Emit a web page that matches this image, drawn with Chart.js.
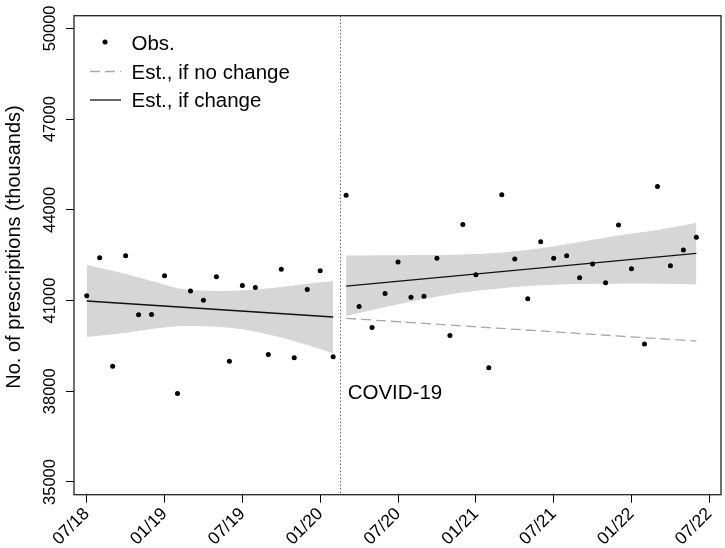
<!DOCTYPE html>
<html>
<head>
<meta charset="utf-8">
<script src="https://cdn.jsdelivr.net/npm/chart.js@4.4.0/dist/chart.umd.min.js"></script>
<style>
html,body{margin:0;padding:0;background:#fff;}
#wrap{width:725px;height:548px;position:relative;}
</style>
</head>
<body>
<div id="wrap"><canvas id="c" width="725" height="548"></canvas></div>
<script>
// ---- data (months counted from 07/18 = 0) ----
const monthLabels = ['07/18','08/18','09/18','10/18','11/18','12/18','01/19','02/19','03/19','04/19','05/19','06/19',
  '07/19','08/19','09/19','10/19','11/19','12/19','01/20','02/20','03/20','04/20','05/20','06/20',
  '07/20','08/20','09/20','10/20','11/20','12/20','01/21','02/21','03/21','04/21','05/21','06/21',
  '07/21','08/21','09/21','10/21','11/21','12/21','01/22','02/22','03/22','04/22','05/22','06/22'];
const observed = [41155, 42418, 38824, 42484, 40529, 40538, 41824, 37924, 41320, 41013, 41791, 38989,
  41495, 41429, 39220, 42035, 39111, 41363, 41989, 39144,
  44485, 40802, 40110, 41231, 42276, 41112, 41145, 42398, 39846, 43519, 41857, 38781,
  44495, 42375, 41056, 42945, 42398, 42484, 41758, 42210, 41593, 43496, 42055, 39562,
  44772, 42154, 42672, 43090];
const xTickMonths = [0, 6, 12, 18, 24, 30, 36, 42, 48];
const xTickLabels = ['07/18','01/19','07/19','01/20','07/20','01/21','07/21','01/22','07/22'];
const yTicks = [35000, 38000, 41000, 44000, 47000, 50000];
const interventionAt = 19.5;
const fitBeforeX = [0, 19];
const fitBeforeY = [40985, 40456];
const fitAfterX = [20, 47];
const fitAfterY = [41480, 42560];
const noChangeX = [20, 47];
const noChangeY = [40412, 39660];
const bandBeforeX  = [0, 3, 5.5, 7.5, 10, 12, 14.5, 17, 19];
const bandBeforeHi = [42174, 41880, 41590, 41370, 41315, 41337, 41425, 41558, 41645];
const bandBeforeLo = [39795, 39938, 40081, 40158, 40136, 40048, 39828, 39530, 39255];
const bandAfterX  = [20, 23, 26, 29, 32, 35, 38, 41, 44, 47];
const bandAfterHi = [42494, 42495, 42505, 42525, 42590, 42730, 42935, 43150, 43330, 43573];
const bandAfterLo = [40489, 40780, 41050, 41270, 41410, 41505, 41550, 41560, 41555, 41535];
const legendLabels = ['Obs.', 'Est., if no change', 'Est., if change'];
const yTitle = 'No. of prescriptions (thousands)';
const annotationText = 'COVID-19';

const FONT = '"Liberation Sans", Arial, sans-serif';
const pts = (xs, ys) => xs.map((x, i) => ({x: x, y: ys[i]}));

const bandStyle = {type:'line', pointRadius:0, borderWidth:0, borderColor:'rgba(0,0,0,0)',
  backgroundColor:'#d6d6d6', tension:0.35};

const datasets = [
  {type:'scatter', label:legendLabels[0], data: observed.map((v, i) => ({x:i, y:v})),
   pointRadius:2.5, pointBackgroundColor:'#000', pointBorderWidth:0, borderColor:'#000', showLine:false},
  {type:'line', label:legendLabels[2], data: pts(fitBeforeX, fitBeforeY), borderColor:'#111', borderWidth:1.3, pointRadius:0, fill:false},
  {type:'line', label:legendLabels[2], data: pts(fitAfterX, fitAfterY), borderColor:'#111', borderWidth:1.3, pointRadius:0, fill:false},
  {type:'line', label:legendLabels[1], data: pts(noChangeX, noChangeY), borderColor:'#a8a8a8', borderWidth:1.3, borderDash:[10,5], pointRadius:0, fill:false},
  Object.assign({}, bandStyle, {data: pts(bandBeforeX, bandBeforeHi), fill:'+1'}),
  Object.assign({}, bandStyle, {data: pts(bandBeforeX, bandBeforeLo), fill:false}),
  Object.assign({}, bandStyle, {data: pts(bandAfterX, bandAfterHi), fill:'+1'}),
  Object.assign({}, bandStyle, {data: pts(bandAfterX, bandAfterLo), fill:false})
];

const decor = {
  id: 'decor',
  beforeDatasetsDraw(chart) {
    const ctx = chart.ctx, a = chart.chartArea, xs = chart.scales.x;
    const px = Math.round(xs.getPixelForValue(interventionAt)) + 0.5;
    ctx.save();
    ctx.strokeStyle = '#444'; ctx.lineWidth = 1; ctx.setLineDash([1.2, 2.3]);
    ctx.beginPath(); ctx.moveTo(px, a.top); ctx.lineTo(px, a.bottom); ctx.stroke();
    ctx.restore();
  },
  afterDraw(chart) {
    const ctx = chart.ctx, a = chart.chartArea, xs = chart.scales.x, ys = chart.scales.y;
    ctx.save();
    // box
    ctx.strokeStyle = '#222'; ctx.lineWidth = 1.3; ctx.setLineDash([]);
    ctx.strokeRect(a.left, a.top, a.right - a.left, a.bottom - a.top);
    // y tick labels (rotated)
    ctx.fillStyle = '#000';
    ctx.font = '16.5px ' + FONT;
    ctx.textAlign = 'center'; ctx.textBaseline = 'alphabetic';
    yTicks.forEach(v => {
      const py = ys.getPixelForValue(v);
      ctx.save(); ctx.translate(55, py); ctx.rotate(-Math.PI / 2);
      ctx.fillText(String(v), 0, 0); ctx.restore();
    });
    // y title
    ctx.font = '20px ' + FONT;
    ctx.save(); ctx.translate(20, 247); ctx.rotate(-Math.PI / 2);
    ctx.fillText(yTitle, 0, 0); ctx.restore();
    // annotation
    ctx.font = '20.5px ' + FONT; ctx.textAlign = 'left';
    ctx.fillText(annotationText, xs.getPixelForValue(interventionAt) + 8, 398.5);
    // legend
    ctx.fillText(legendLabels[0], 131.5, 50);
    ctx.fillText(legendLabels[1], 131.5, 78.5);
    ctx.fillText(legendLabels[2], 131.5, 107);
    ctx.beginPath(); ctx.arc(105, 42, 2.5, 0, Math.PI * 2); ctx.fill();
    ctx.lineWidth = 1.3;
    ctx.strokeStyle = '#a8a8a8'; ctx.setLineDash([10, 5]);
    ctx.beginPath(); ctx.moveTo(90, 71.5); ctx.lineTo(121, 71.5); ctx.stroke();
    ctx.strokeStyle = '#111'; ctx.setLineDash([]);
    ctx.beginPath(); ctx.moveTo(90, 100); ctx.lineTo(121, 100); ctx.stroke();
    ctx.restore();
  }
};

new Chart(document.getElementById('c'), {
  type: 'line',
  data: {datasets: datasets},
  options: {
    responsive: false, animation: false, devicePixelRatio: 1,
    layout: {padding: {left: 0, right: 3.3, top: 15.7, bottom: 0}},
    plugins: {legend: {display: false}, tooltip: {enabled: false}, filler: {propagate: false}},
    scales: {
      x: {
        type: 'linear', min: -0.98, max: 48.9,
        afterBuildTicks: s => { s.ticks = xTickMonths.map(v => ({value: v})); },
        afterFit: s => { s.height = 53.3; s.paddingLeft = 0; s.paddingRight = 0; },
        grid: {drawOnChartArea: false, drawTicks: true, tickLength: 8, color: '#000', lineWidth: 1},
        border: {display: false},
        ticks: {autoSkip: false, minRotation: 45, maxRotation: 45, padding: 1, color: '#000',
          font: {family: FONT, size: 17.5},
          callback: v => xTickLabels[xTickMonths.indexOf(v)]}
      },
      y: {
        type: 'linear', min: 34580, max: 50420,
        afterBuildTicks: s => { s.ticks = yTicks.map(v => ({value: v})); },
        afterFit: s => { s.width = 74; s.paddingTop = 0; s.paddingBottom = 0; },
        grid: {drawOnChartArea: false, drawTicks: true, tickLength: 8, color: '#000', lineWidth: 1},
        border: {display: false},
        ticks: {display: false}
      }
    }
  },
  plugins: [decor]
});
</script>
</body>
</html>
